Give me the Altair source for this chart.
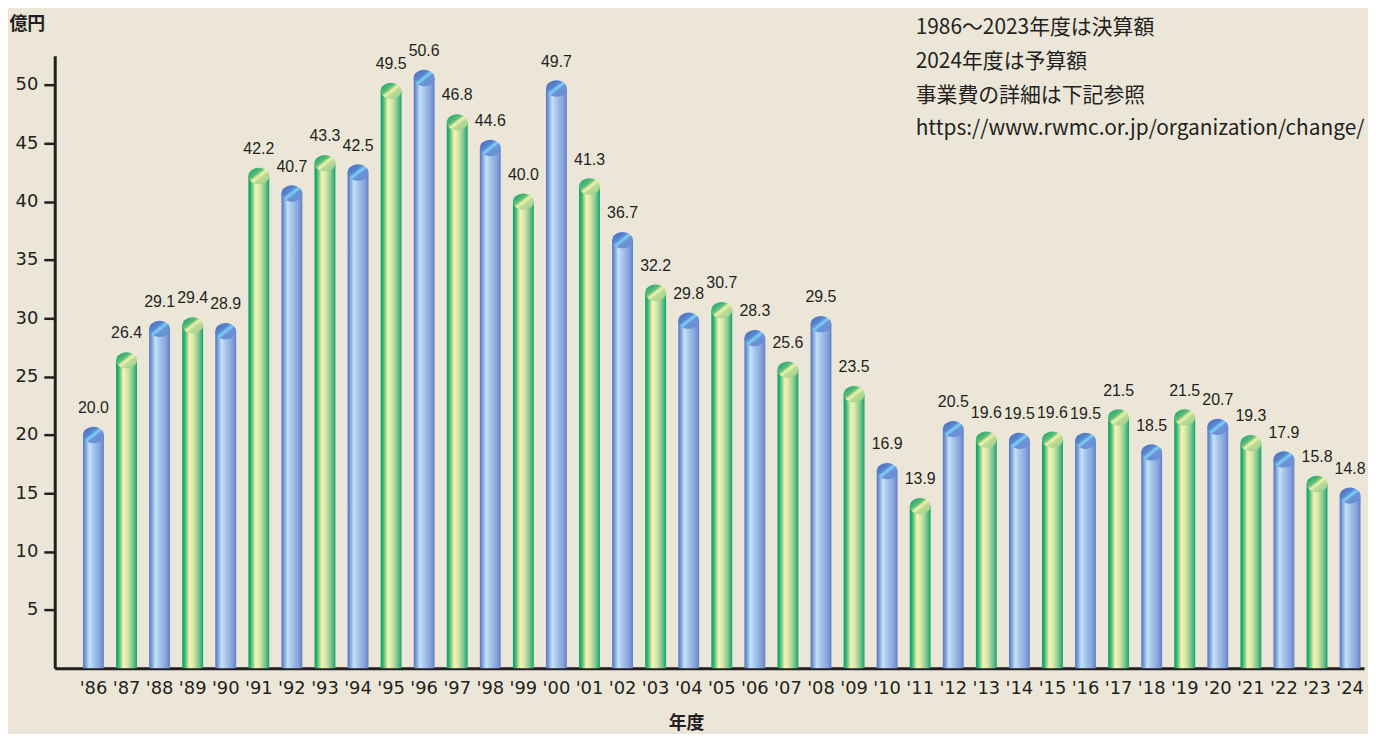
import altair as alt
import pandas as pd

years = ["'86", "'87", "'88", "'89", "'90", "'91", "'92", "'93", "'94", "'95",
         "'96", "'97", "'98", "'99", "'00", "'01", "'02", "'03", "'04", "'05",
         "'06", "'07", "'08", "'09", "'10", "'11", "'12", "'13", "'14", "'15",
         "'16", "'17", "'18", "'19", "'20", "'21", "'22", "'23", "'24"]
values = [20.0, 26.4, 29.1, 29.4, 28.9, 42.2, 40.7, 43.3, 42.5, 49.5,
          50.6, 46.8, 44.6, 40.0, 49.7, 41.3, 36.7, 32.2, 29.8, 30.7,
          28.3, 25.6, 29.5, 23.5, 16.9, 13.9, 20.5, 19.6, 19.5, 19.6,
          19.5, 21.5, 18.5, 21.5, 20.7, 19.3, 17.9, 15.8, 14.8]
series = ["blue" if i % 2 == 0 else "green" for i in range(len(years))]
y_ticks = [5, 10, 15, 20, 25, 30, 35, 40, 45, 50]
notes = ["1986～2023年度は決算額", "2024年度は予算額", "事業費の詳細は下記参照",
         "https://www.rwmc.or.jp/organization/change/"]

df = pd.DataFrame({"year": years, "value": values, "series": series})

INK = "#231f20"
BG = "#ebe6d8"
NUM_FONT = "Liberation Sans"
AXIS_FONT = "DejaVu Sans"
JP_FONT = "Noto Sans CJK JP"


def lin(stops, x2=1, y2=0):
    return alt.LinearGradient(
        gradient="linear", x1=0, y1=0, x2=x2, y2=y2,
        stops=[alt.GradientStop(offset=o, color=c) for o, c in stops])


blue_body = lin([(0, "#5474c0"), (0.1, "#7196d4"), (0.3, "#c4e2f7"),
                 (0.5, "#a6c6ec"), (0.8, "#88a4dc"), (1, "#6380c8")])
green_body = lin([(0, "#00a060"), (0.12, "#3cb474"), (0.35, "#f6f4b4"),
                  (0.55, "#d6e6a8"), (0.8, "#7cc690"), (1, "#12a468")])
blue_cap = lin([(0, "#4a68bc"), (0.38, "#5a86d0"), (0.5, "#7ed2f4"),
                (0.6, "#6a94d8"), (1, "#6a8ad2")], x2=1, y2=1)
green_cap = lin([(0, "#05a060"), (0.38, "#60bc7c"), (0.5, "#f4f2a6"),
                 (0.62, "#b8dc98"), (1, "#98cc88")], x2=1, y2=1)

ELLIPSE = "M-1,0A1,0.78,0,1,1,1,0A1,0.78,0,1,1,-1,0Z"

x_enc = alt.X("year:N", sort=years,
              scale=alt.Scale(paddingInner=0.3687, paddingOuter=0.481, align=0.89),
              axis=alt.Axis(title="年度", labelAngle=0, ticks=False,
                            labelFont=AXIS_FONT, labelFontSize=18, labelColor=INK,
                            labelPadding=11, domainColor=INK, domainWidth=3,
                            titleFont=JP_FONT, titleFontWeight="bold",
                            titleFontSize=18, titleColor=INK,
                            titleX=635, titleY=56, titleAlign="center",
                            titleBaseline="middle"))
y_enc = alt.Y("value:Q", scale=alt.Scale(domain=[0, 52.5], nice=False),
              axis=alt.Axis(title="億円", values=y_ticks, grid=False,
                            labelFont=AXIS_FONT, labelFontSize=18, labelColor=INK,
                            labelPadding=6, tickSize=11, tickWidth=2.5,
                            tickColor=INK, domainColor=INK, domainWidth=3,
                            titleFont=JP_FONT, titleFontWeight="bold",
                            titleFontSize=18, titleColor=INK, titleAngle=0,
                            titleAlign="left", titleBaseline="middle",
                            titleX=-46, titleY=-32))

base = alt.Chart(df)

bars_blue = base.transform_filter(alt.datum.series == "blue").mark_bar(
    color=blue_body).encode(x=x_enc, y=y_enc)
bars_green = base.transform_filter(alt.datum.series == "green").mark_bar(
    color=green_body).encode(x=x_enc, y=y_enc)

caps_blue = base.transform_filter(alt.datum.series == "blue").mark_point(
    shape=ELLIPSE, size=441, filled=True, fill=blue_cap, opacity=1,
    strokeWidth=0).encode(x=x_enc, y=y_enc)
caps_green = base.transform_filter(alt.datum.series == "green").mark_point(
    shape=ELLIPSE, size=441, filled=True, fill=green_cap, opacity=1,
    strokeWidth=0).encode(x=x_enc, y=y_enc)

labels = base.mark_text(font=NUM_FONT, fontSize=16, color=INK, dy=-27,
                        baseline="middle").encode(
    x=x_enc, y=y_enc, text=alt.Text("value:Q", format=".1f"))

note = alt.Chart(pd.DataFrame({"k": [0]})).mark_text(
    font=JP_FONT, fontSize=21, color=INK, align="left", baseline="middle",
    lineHeight=34).encode(x=alt.value(866), y=alt.value(-28),
                          text=alt.value(notes))

chart = alt.layer(bars_blue, bars_green, caps_blue, caps_green, labels, note).properties(
    width=1317, height=616,
    autosize=alt.AutoSizeParams(type="none"),
    padding={"left": 47, "top": 46, "right": 4, "bottom": 64},
    background=BG,
).configure_view(stroke=None)

chart.save("out.html", embed_options={"renderer": "svg", "actions": False})
